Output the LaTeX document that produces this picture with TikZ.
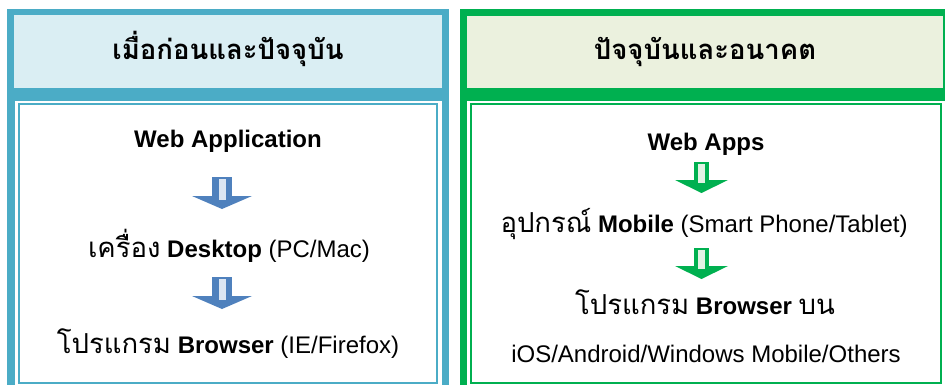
\documentclass[tikz,border=0pt]{standalone}
\usepackage{fontspec}
\setmainfont{Liberation Sans}
\newfontfamily\thaifont[Script=Thai]{Loma}
\newcommand\thaiword[1]{{\thaifont\fontsize{27.5}{30}\selectfont #1}}
\definecolor{aqualine}{HTML}{4BACC6}
\definecolor{aquafill}{HTML}{DAEEF3}
\definecolor{greenline}{HTML}{00B050}
\definecolor{greenfill}{HTML}{EBF1DE}
\definecolor{arrowblue}{HTML}{4F81BD}
\definecolor{arrowbluelight}{HTML}{DCE6F2}
\definecolor{arrowgreenlight}{HTML}{E2F2E4}
\tikzset{
  bodytext/.style={anchor=base, inner sep=0pt, font=\fontsize{24}{28}\selectfont},
  headtext/.style={anchor=base, inner sep=0pt, font=\fontsize{27.5}{30}\selectfont\thaifont\bfseries},
  pics/bluedown/.style={code={
    \fill[arrowblue] (-10,0) rectangle (10,20);
    \fill[arrowblue] (-30,19) -- (30,19) -- (0,32) -- cycle;
    \fill[arrowbluelight] (-3.5,1.5) rectangle (3.5,23);
  }},
  pics/greendown/.style={code={
    \fill[greenline] (-7.5,0) rectangle (7.5,19);
    \fill[greenline] (-26.5,18) -- (26.5,18) -- (0,31) -- cycle;
    \fill[arrowgreenlight] (-3.5,1.5) rectangle (3.5,21);
  }}
}
\begin{document}
\begin{tikzpicture}[x=1pt,y=-1pt]
\useasboundingbox (0,0) rectangle (945,385);
\fill[white] (0,0) rectangle (945,385);

% left panel: earlier and now
\fill[aqualine] (7,9) rectangle (448.5,390);
\fill[aquafill] (14,15) rectangle (442,88.5);
\fill[white] (14.5,101) rectangle (442,390);
\draw[aqualine, line width=2pt] (19,104) rectangle (437,382.5);

% right panel: now and the future
\fill[greenline] (460,9) rectangle (952,390);
\fill[greenfill] (467,16) rectangle (943,88.5);
\fill[white] (466.5,101) rectangle (952,390);
\draw[greenline, line width=2pt] (471,104.5) rectangle (941,382.5);

% headers
\node[headtext] (hl) at (228,60) {เมื่อก่อนและปัจจุบัน};
\node[headtext] (hr) at (705,60) {ปัจจุบันและอนาคต};

% left column
\node[bodytext] (l1) at (228,148) {\textbf{Web Application}};
\pic at (222,177) {bluedown};
\node[bodytext] (l2) at (229,257) {\thaiword{เครื่อง} \textbf{Desktop} (PC/Mac)};
\pic at (222,277) {bluedown};
\node[bodytext] (l3) at (228,353) {\thaiword{โปรแกรม} \textbf{Browser} (IE/Firefox)};

% right column
\node[bodytext] (r1) at (706,150) {\textbf{Web Apps}};
\pic at (701.5,162) {greendown};
\node[bodytext] (r2) at (704,232) {\thaiword{อุปกรณ์} \textbf{Mobile} (Smart Phone/Tablet)};
\pic at (701.5,248) {greendown};
\node[bodytext] (r3) at (705,314) {\thaiword{โปรแกรม} \textbf{Browser} \thaiword{บน}};
\node[bodytext] (r4) at (706,362) {iOS/Android/Windows Mobile/Others};
\end{tikzpicture}
\end{document}
